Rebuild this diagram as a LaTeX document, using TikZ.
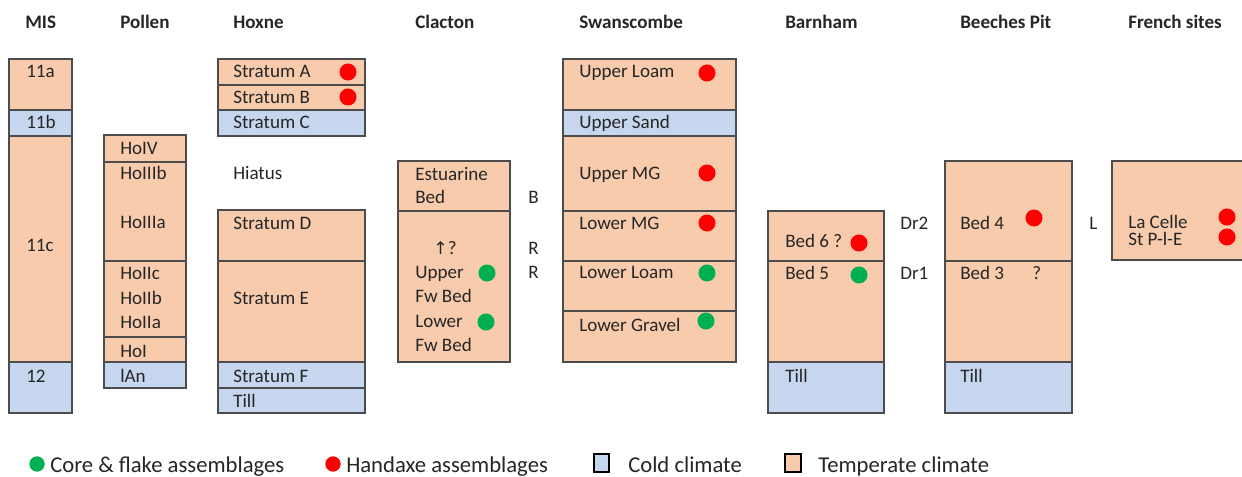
\documentclass[tikz,border=0pt]{standalone}
\usepackage{fontspec}
\setmainfont{Carlito}
\newfontfamily\arrowfont{DejaVu Sans}
\definecolor{warmfill}{RGB}{248,203,173}
\definecolor{coldfill}{RGB}{198,214,238}
\definecolor{handaxe}{RGB}{255,0,0}
\definecolor{coreflake}{RGB}{0,176,80}
\begin{document}
\begin{tikzpicture}[x=0.75pt,y=-0.75pt,
	warm/.style={fill=warmfill,draw=black!70,line width=0.8pt},
	cold/.style={fill=coldfill,draw=black!70,line width=0.8pt},
	txt/.style={anchor=base west,inner sep=0pt,text=black!85,font=\fontsize{14.3}{17}\selectfont},
	head/.style={anchor=base west,inner sep=0pt,text=black!85,font=\fontsize{14.3}{17}\selectfont\bfseries},
	key/.style={anchor=base west,inner sep=0pt,text=black!85,font=\fontsize{17}{20}\selectfont},
	red dot/.style={circle,fill=handaxe,inner sep=0pt,minimum size=12.8pt},
	green dot/.style={circle,fill=coreflake,inner sep=0pt,minimum size=12.8pt}]
\useasboundingbox (0,0) rectangle (1242,477);
% headers
\node[head] (hMIS) at (25,29) {MIS};
\node[head] (hPol) at (120,29) {Pollen};
\node[head] (hHox) at (233,29) {Hoxne};
\node[head] (hCla) at (415,29) {Clacton};
\node[head] (hSwa) at (579,29) {Swanscombe};
\node[head] (hBar) at (785,29) {Barnham};
\node[head] (hBee) at (960,29) {Beeches Pit};
\node[head] (hFre) at (1128,29) {French sites};
% MIS
\draw[warm] (9,59) rectangle (72,110);
\draw[cold] (9,110) rectangle (72,136);
\draw[warm] (9,136) rectangle (72,362);
\draw[cold] (9,362) rectangle (72,413);
\node[txt] (m1) at (26,78) {11a};
\node[txt] (m2) at (26,129) {11b};
\node[txt] (m3) at (26,252) {11c};
\node[txt] (m4) at (26,382) {12};
% Pollen
\draw[warm] (104,135) rectangle (186,162);
\draw[warm] (104,162) rectangle (186,261);
\draw[warm] (104,261) rectangle (186,337);
\draw[warm] (104,337) rectangle (186,362);
\draw[cold] (104,362) rectangle (186,388);
\node[txt] (p1) at (120,155) {HoIV};
\node[txt] (p2) at (120,180) {HoIIIb};
\node[txt] (p3) at (120,229) {HoIIIa};
\node[txt] (p4) at (120,280) {HoIIc};
\node[txt] (p5) at (120,305) {HoIIb};
\node[txt] (p6) at (120,329) {HoIIa};
\node[txt] (p7) at (120,357) {HoI};
\node[txt] (p8) at (120,382) {lAn};
% Hoxne
\draw[warm] (218,59) rectangle (365,85);
\draw[warm] (218,85) rectangle (365,110);
\draw[cold] (218,110) rectangle (365,136);
\draw[warm] (218,210) rectangle (365,261);
\draw[warm] (218,261) rectangle (365,362);
\draw[cold] (218,362) rectangle (365,388);
\draw[cold] (218,388) rectangle (365,413);
\node[txt] (x1) at (233,78) {Stratum A};
\node[txt] (x2) at (233,104) {Stratum B};
\node[txt] (x3) at (233,129) {Stratum C};
\node[txt] (x4) at (233,180) {Hiatus};
\node[txt] (x5) at (233,230) {Stratum D};
\node[txt] (x6) at (233,305) {Stratum E};
\node[txt] (x7) at (233,382) {Stratum F};
\node[txt] (x8) at (233,407) {Till};
\node[red dot] (xa) at (348,72) {};
\node[red dot] (xb) at (348,97) {};
% Clacton
\draw[warm] (398,161) rectangle (510,211);
\draw[warm] (398,211) rectangle (510,362);
\node[txt] (c1) at (415,181) {Estuarine};
\node[txt] (c2) at (415,204) {Bed};
\node[txt] (c3) at (433,255) {{\arrowfont\fontsize{13}{15}\selectfont ↑}?};
\node[txt] (c4) at (415,279) {Upper};
\node[txt] (c5) at (415,303) {Fw Bed};
\node[txt] (c6) at (415,327) {Lower};
\node[txt] (c7) at (415,351) {Fw Bed};
\node[green dot] (ca) at (487,273) {};
\node[green dot] (cb) at (486,322) {};
\node[txt] (cB) at (528,204) {B};
\node[txt] (cR1) at (528,255) {R};
\node[txt] (cR2) at (528,279) {R};
% Swanscombe
\draw[warm] (563,59) rectangle (736,110);
\draw[cold] (563,110) rectangle (736,136);
\draw[warm] (563,136) rectangle (736,211);
\draw[warm] (563,211) rectangle (736,261);
\draw[warm] (563,261) rectangle (736,311);
\draw[warm] (563,311) rectangle (736,362);
\node[txt] (s1) at (579,78) {Upper Loam};
\node[txt] (s2) at (579,129) {Upper Sand};
\node[txt] (s3) at (579,180) {Upper MG};
\node[txt] (s4) at (579,230) {Lower MG};
\node[txt] (s5) at (579,279) {Lower Loam};
\node[txt] (s6) at (579,331) {Lower Gravel};
\node[red dot] (sa) at (707,73) {};
\node[red dot] (sb) at (707,173) {};
\node[red dot] (sc) at (707,223) {};
\node[green dot] (sd) at (707,273) {};
\node[green dot] (se) at (706,321) {};
% Barnham
\draw[warm] (768,211) rectangle (884,261);
\draw[warm] (768,261) rectangle (884,362);
\draw[cold] (768,362) rectangle (884,413);
\node[txt] (b1) at (785,248) {Bed 6 ?};
\node[txt] (b2) at (785,280) {Bed 5};
\node[txt] (b3) at (785,382) {Till};
\node[red dot] (ba) at (859,243) {};
\node[green dot] (bb) at (859,275) {};
\node[txt] (dr2) at (900,230) {Dr2};
\node[txt] (dr1) at (900,280) {Dr1};
% Beeches Pit
\draw[warm] (945,161) rectangle (1072,261);
\draw[warm] (945,261) rectangle (1072,362);
\draw[cold] (945,362) rectangle (1072,413);
\node[txt] (e1) at (960,230) {Bed 4};
\node[txt] (e2) at (960,280) {Bed 3};
\node[txt] (e3) at (1032,280) {?};
\node[txt] (e4) at (960,382) {Till};
\node[red dot] (ea) at (1034,218) {};
\node[txt] (lL) at (1089,230) {L};
% French sites
\fill[warmfill] (1112,161) rectangle (1242,260);
\draw[black!70,line width=0.8pt] (1242,161) -- (1112,161) -- (1112,260) -- (1242,260);
\node[txt] (f1) at (1128,229) {La Celle};
\node[txt] (f2) at (1128,246) {St P-l-E};
\node[red dot] (fa) at (1227,217) {};
\node[red dot] (fb) at (1227,237) {};
% legend
\node[green dot,minimum size=11.5pt] (kg) at (37,464) {};
\node[key] (kgt) at (50,472) {Core \& flake assemblages};
\node[red dot,minimum size=11.5pt] (kr) at (333,464) {};
\node[key] (krt) at (346,472) {Handaxe assemblages};
\draw[cold,draw=black,line width=1.8pt] (594,454) rectangle (609,472);
\node[key] (kct) at (628,472) {Cold climate};
\draw[warm,draw=black,line width=1.8pt] (785,454) rectangle (801,472);
\node[key] (kwt) at (818,472) {Temperate climate};
\end{tikzpicture}
\end{document}
